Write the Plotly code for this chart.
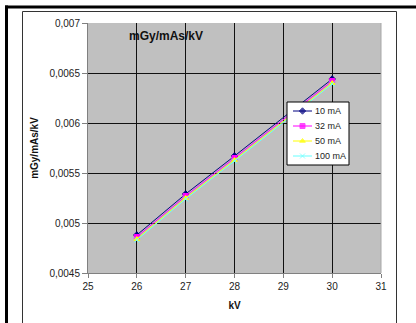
import plotly.graph_objects as go

# Measured dose per mAs per kV at each tube voltage, for four tube currents
kv = [26, 27, 28, 30]
dose_10ma = [0.00488, 0.00529, 0.00567, 0.00644]
dose_32ma = [0.00486, 0.00527, 0.00565, 0.00642]
dose_50ma = [0.00484, 0.00525, 0.00563, 0.00640]
dose_100ma = [0.00483, 0.00524, 0.00562, 0.00639]

series_names = ["10 mA", "32 mA", "50 mA", "100 mA"]
series_values = [dose_10ma, dose_32ma, dose_50ma, dose_100ma]
series_colors = ["#000080", "#ff00ff", "#ffff00", "#66ffff"]
series_symbols = ["diamond", "square", "triangle-up", "x-thin"]

x_ticks = [25, 26, 27, 28, 29, 30, 31]
y_ticks = [0.0045, 0.005, 0.0055, 0.006, 0.0065, 0.007]
y_tick_text = ["0,0045", "0,005", "0,0055", "0,006", "0,0065", "0,007"]

W, H = 416, 323
L, R, T, B = 88, 35, 23, 50
PW, PH = W - L - R, H - T - B


def px(x):
    return (x - L) / PW


def py(y):
    return 1 - (y - T) / PH


fig = go.Figure()
for name, vals, col, sym in zip(series_names, series_values, series_colors, series_symbols):
    fig.add_trace(go.Scatter(
        x=kv, y=vals, name=name, mode="lines+markers",
        line=dict(color=col, width=1),
        marker=dict(color=col, symbol=sym, size=5,
                    line=dict(color=col, width=1)),
        showlegend=False,
    ))

# Compact legend box drawn on an overlay axis measured in pixels
LX0, LX1, LY0, LY1 = 287, 349, 102, 165
row_y = [111, 126, 141, 156]
fig.add_trace(go.Scatter(
    x=[LX0, LX1, LX1, LX0, LX0], y=[LY0, LY0, LY1, LY1, LY0],
    xaxis="x2", yaxis="y2", mode="lines", fill="toself",
    fillcolor="white", line=dict(color="black", width=1),
    hoverinfo="skip", showlegend=False,
))
annotations = []
for ry, name, col, sym in zip(row_y, series_names, series_colors, series_symbols):
    fig.add_trace(go.Scatter(
        x=[293, 302.5, 312], y=[ry, ry, ry], xaxis="x2", yaxis="y2",
        mode="lines+markers", line=dict(color=col, width=1),
        marker=dict(color=col, symbol=sym, size=[0, 5, 0],
                    line=dict(color=col, width=1)),
        hoverinfo="skip", showlegend=False,
    ))
    annotations.append(dict(
        text=name, xref="x2", yref="y2", x=312.5, y=ry,
        xanchor="left", yanchor="middle", showarrow=False,
        font=dict(size=9, color="#222222"),
    ))

annotations.append(dict(
    text="<b>mGy/mAs/kV</b>", xref="paper", yref="paper",
    x=px(166), y=py(36), xanchor="center", yanchor="middle",
    showarrow=False, font=dict(size=12, color="#111111"),
))

shapes = [
    # outer heavy frame (top and left)
    dict(type="line", xref="paper", yref="paper", x0=px(5), x1=px(417),
         y0=py(7), y1=py(7), line=dict(color="black", width=3)),
    dict(type="line", xref="paper", yref="paper", x0=px(6.5), x1=px(6.5),
         y0=py(5.5), y1=py(330), line=dict(color="black", width=3)),
    # chart area border
    dict(type="rect", xref="paper", yref="paper", x0=px(22.5), x1=px(396.5),
         y0=py(11.5), y1=py(340), line=dict(color="#333333", width=1)),
    # right plot edge
    dict(type="line", xref="paper", yref="paper", x0=1, x1=1, y0=0, y1=1,
         line=dict(color="#a8a8a8", width=1)),
]

fig.update_layout(
    width=W, height=H,
    margin=dict(l=L, r=R, t=T, b=B),
    paper_bgcolor="white",
    plot_bgcolor="#c0c0c0",
    font=dict(family="Liberation Sans, Arial, sans-serif", color="#222222", size=10),
    separators=", ",
    shapes=shapes,
    annotations=annotations,
    showlegend=False,
    xaxis=dict(
        range=[25, 31], tickvals=x_ticks,
        showgrid=True, gridcolor="#111111", gridwidth=1,
        zeroline=False, showline=True, linecolor="#808080", linewidth=1,
        ticks="outside", ticklen=4, tickcolor="#808080",
        title=dict(text="<b>kV</b>", font=dict(size=10, color="#111111"), standoff=10),
    ),
    yaxis=dict(
        range=[0.0045, 0.007], tickvals=y_ticks, ticktext=y_tick_text,
        showgrid=True, gridcolor="#111111", gridwidth=1,
        zeroline=False, showline=True, linecolor="#808080", linewidth=1,
        ticks="outside", ticklen=5, tickcolor="#808080",
        title=dict(text="<b>mGy/mAs/kV</b>", font=dict(size=10, color="#111111"), standoff=8),
    ),
    xaxis2=dict(overlaying="x", range=[L, W - R], visible=False, fixedrange=True),
    yaxis2=dict(overlaying="y", range=[H - B, T], visible=False, fixedrange=True),
)

fig.write_html("out.html")
